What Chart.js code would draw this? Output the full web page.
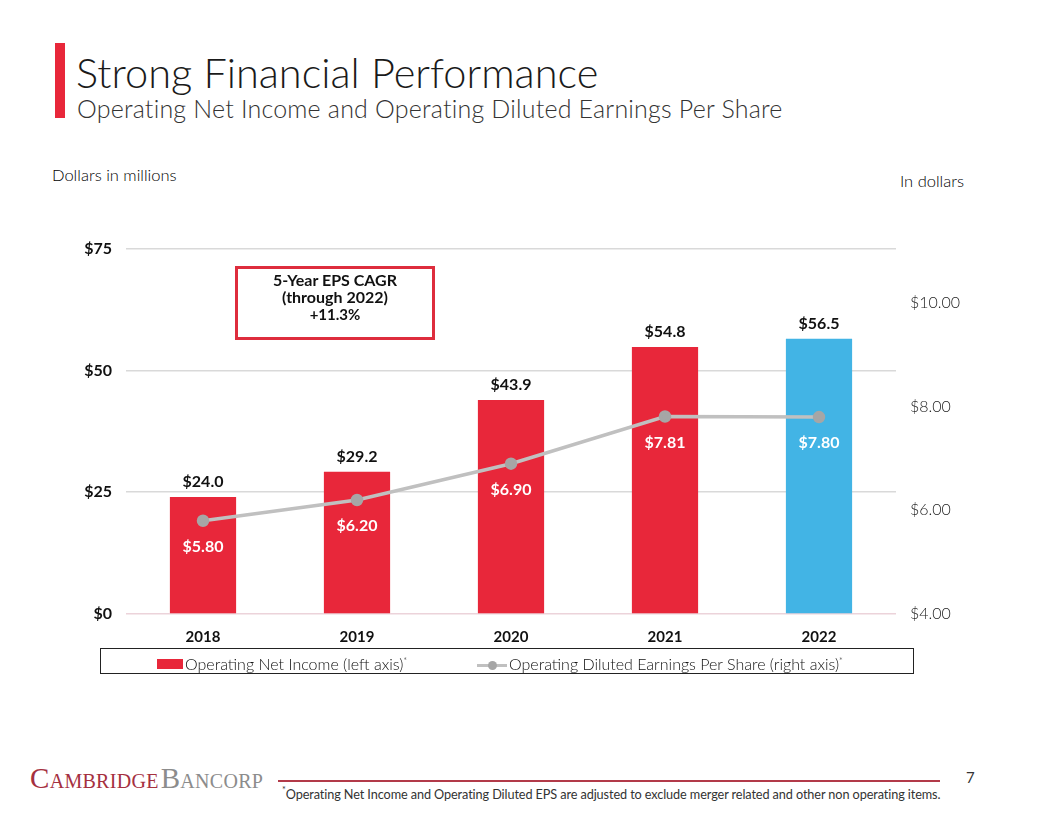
<!DOCTYPE html>
<html>
<head>
<meta charset="utf-8">
<script src="https://cdn.jsdelivr.net/npm/chart.js@4"></script>
<style>
  html, body { margin: 0; padding: 0; background: #fff; }
  body { width: 1056px; height: 816px; position: relative; overflow: hidden; font-family: 'Lato', 'Open Sans', sans-serif; color: #222; }
  .abs { position: absolute; white-space: nowrap; }
  #redbar { left: 55px; top: 43px; width: 10px; height: 75px; background: #e8273a; }
  #title { left: 76px; top: 47px; font-size: 41.5px; font-weight: 300; color: #1a1a1a; letter-spacing: 0px; }
  #subtitle { left: 77px; top: 93px; font-size: 25px; font-weight: 300; color: #333; letter-spacing: 0.2px; }
  #leftUnit { left: 52px; top: 165px; font-size: 16.5px; font-weight: 300; color: #000; }
  #rightUnit { right: 92px; top: 171px; font-size: 16.5px; font-weight: 300; color: #000; }
  #chartWrap { left: 40px; top: 225px; width: 940px; height: 425px; }
  #cagr { left: 235px; top: 266px; width: 194px; height: 66px; border: 3px solid #de2d3d; text-align: center; font-size: 16px; font-weight: 700; line-height: 17px; color: #111; padding-top: 2px; box-sizing: content-box; }
  #legend { left: 100px; top: 648px; width: 812px; height: 24px; border: 1px solid #222; font-size: 16px; font-weight: 300; color: #111; }
  .lg { position: absolute; top: 2px; line-height: 20px; }
  .sw { display: inline-block; width: 26px; height: 10px; background: #e8273a; vertical-align: 1px; margin-right: 2px; }
  .ln { display: inline-block; position: relative; width: 30px; height: 10px; vertical-align: 0px; margin-right: 2px; }
  .ln::before { content: ''; position: absolute; left: 0; right: 0; top: 4px; height: 3px; background: #c0c0c0; }
  .ln::after { content: ''; position: absolute; left: 11px; top: 1px; width: 9px; height: 9px; border-radius: 50%; background: #a6a6a6; }
  sup { font-size: 9px; vertical-align: 6px; }
  #logo { left: 30px; top: 762px; font-family: 'Liberation Serif', 'DejaVu Serif', serif; font-size: 29px; font-variant: small-caps; letter-spacing: 0.3px; }
  #logo .c { color: #a5303f; }
  #logo .b { color: #8c8c8c; margin-left: 2px; }
  #rule { left: 278px; top: 780px; width: 662px; height: 2px; background: #b23a49; }
  #page { left: 966px; top: 768px; font-size: 15px; color: #333; }
  #foot { left: 282px; top: 784px; font-size: 12.7px; color: #333; letter-spacing: -0.1px; }
</style>
</head>
<body>
<div class="abs" id="redbar"></div>
<div class="abs" id="title">Strong Financial Performance</div>
<div class="abs" id="subtitle">Operating Net Income and Operating Diluted Earnings Per Share</div>
<div class="abs" id="leftUnit">Dollars in millions</div>
<div class="abs" id="rightUnit">In dollars</div>

<div class="abs" id="chartWrap"><canvas id="chart"></canvas></div>

<div class="abs" id="cagr">5-Year EPS CAGR<br>(through 2022)<br><span style="font-size:15px">+11.3%</span></div>

<div class="abs" id="legend">
  <span class="lg" style="left:56px"><span class="sw"></span>Operating Net Income (left axis)<sup>*</sup></span>
  <span class="lg" style="left:376px"><span class="ln"></span>Operating Diluted Earnings Per Share (right axis)<sup>*</sup></span>
</div>

<div class="abs" id="logo"><span class="c">Cambridge</span><span class="b">Bancorp</span></div>
<div class="abs" id="rule"></div>
<div class="abs" id="page">7</div>
<div class="abs" id="foot"><sup>*</sup>Operating Net Income and Operating Diluted EPS are adjusted to exclude merger related and other non operating items.</div>

<script>
// data
const years = ['2018', '2019', '2020', '2021', '2022'];
const netIncome = [24.0, 29.2, 43.9, 54.8, 56.5];
const eps = [5.80, 6.20, 6.90, 7.81, 7.80];
const barColors = ['#e8273a', '#e8273a', '#e8273a', '#e8273a', '#42b4e5'];
const leftTicks = [0, 25, 50, 75];
const rightTicks = [4, 6, 8, 10];

const labelFont = "bold 16px Lato, 'Open Sans', sans-serif";

// value labels: net income above bars, EPS in white under the points
const valueLabels = {
    id: 'valueLabels',
    afterDatasetsDraw(chart) {
        const ctx = chart.ctx;
        ctx.save();
        ctx.font = labelFont;
        ctx.textAlign = 'center';
        ctx.textBaseline = 'middle';

        chart.getDatasetMeta(1).data.forEach((bar, i) => {
            ctx.fillStyle = '#111';
            ctx.fillText('$' + netIncome[i].toFixed(1), bar.x, bar.y - 15);
        });
        chart.getDatasetMeta(0).data.forEach((pt, i) => {
            ctx.fillStyle = '#fff';
            ctx.fillText('$' + eps[i].toFixed(2), pt.x, pt.y + 26);
        });
        ctx.restore();
    }
};

new Chart(document.getElementById('chart'), {
    data: {
        labels: years,
        datasets: [
            {
                type: 'line',
                label: 'Operating Diluted Earnings Per Share (right axis)',
                data: eps,
                yAxisID: 'yRight',
                borderColor: '#c0c0c0',
                borderWidth: 3.5,
                pointBackgroundColor: '#a6a6a6',
                pointBorderColor: '#a6a6a6',
                pointRadius: 4.5,
                tension: 0,
                order: 0
            },
            {
                type: 'bar',
                label: 'Operating Net Income (left axis)',
                data: netIncome,
                yAxisID: 'yLeft',
                backgroundColor: barColors,
                barPercentage: 0.43,
                categoryPercentage: 1,
                order: 1
            }
        ]
    },
    options: {
        responsive: true,
        maintainAspectRatio: false,
        animation: false,
        layout: { padding: { top: 23, bottom: 0, left: 0, right: 0 } },
        plugins: {
            legend: { display: false },
            tooltip: { enabled: false }
        },
        scales: {
            x: {
                grid: { display: false },
                border: { display: false },
                ticks: { color: '#111', font: { family: 'Lato', size: 15, weight: 'bold' }, padding: 6 },
                afterFit: s => { s.height = 36; }
            },
            yLeft: {
                position: 'left',
                min: 0,
                max: 75,
                afterBuildTicks: s => { s.ticks = leftTicks.map(v => ({ value: v })); },
                grid: {
                    color: c => c.tick && c.tick.value === 0 ? '#ecd3da' : '#d9d9d9',
                    lineWidth: 1.5,
                    drawTicks: false
                },
                border: { display: false },
                ticks: {
                    color: '#111',
                    font: { family: 'Lato', size: 16, weight: 'bold' },
                    padding: 14,
                    callback: v => '$' + v
                },
                afterFit: s => { s.width = 86; }
            },
            yRight: {
                position: 'right',
                min: 4,
                max: 11.05,
                afterBuildTicks: s => { s.ticks = rightTicks.map(v => ({ value: v })); },
                grid: { display: false, drawTicks: false },
                border: { display: false },
                ticks: {
                    color: '#222',
                    font: { family: 'Lato', size: 16, weight: '300' },
                    padding: 14,
                    callback: v => '$' + v.toFixed(2)
                },
                afterFit: s => { s.width = 84; }
            }
        }
    },
    plugins: [valueLabels]
});
</script>
</body>
</html>
